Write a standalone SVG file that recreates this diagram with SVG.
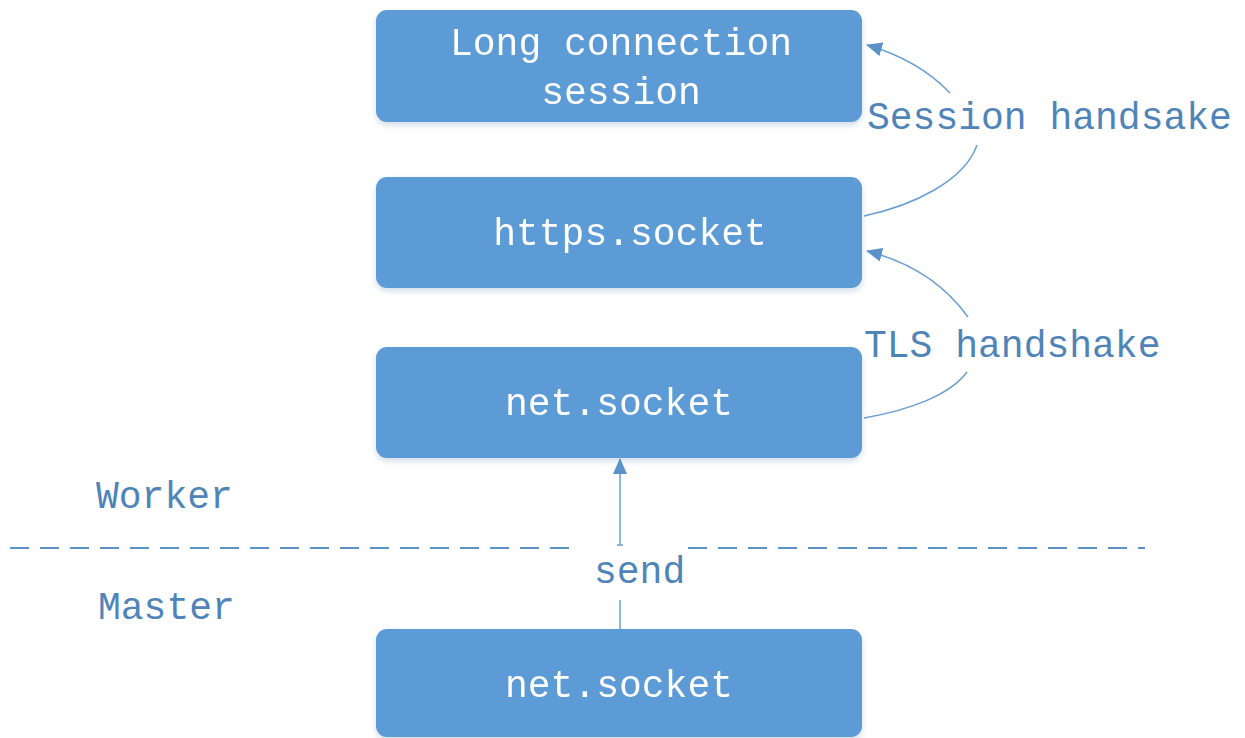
<svg xmlns="http://www.w3.org/2000/svg" width="1245" height="738" viewBox="0 0 1245 738">
  <style>
    .box { fill: #5b9bd5; }
    .boxtext { fill: #ffffff; font-family: "Liberation Mono", "DejaVu Sans Mono", monospace; font-size: 38px; text-anchor: middle; }
    .label { fill: #4f84b9; font-family: "Liberation Mono", "DejaVu Sans Mono", monospace; font-size: 38px; }
    .link { fill: none; stroke: #6a9fd2; stroke-width: 1.5; }
    .divider { fill: none; stroke: #5b93c9; stroke-width: 2; stroke-dasharray: 19 11; }
  </style>
  <defs>
    <filter id="shadow" x="-5%" y="-10%" width="110%" height="130%">
      <feDropShadow dx="0" dy="3" stdDeviation="3" flood-color="#7a9cc0" flood-opacity="0.35"/>
    </filter>
    <marker id="arrow" viewBox="0 0 16 14" refX="15" refY="7" markerWidth="16" markerHeight="14" markerUnits="userSpaceOnUse" orient="auto">
      <path d="M0,0 L16,7 L0,14 Z" fill="#5b93c9"/>
    </marker>
  </defs>

  <rect width="1245" height="738" fill="#ffffff"/>

  <!-- process boundary -->
  <g id="boundary">
    <path class="divider" d="M10,548 H580"/>
    <path class="divider" d="M688,548 H1145"/>
    <text class="label" x="96" y="508">Worker</text>
    <text class="label" x="98" y="619">Master</text>
  </g>

  <g id="node-session" filter="url(#shadow)">
    <rect class="box" x="376" y="10" width="486" height="112" rx="11"/>
    <text class="boxtext" x="621" y="55">Long connection</text>
    <text class="boxtext" x="621" y="104">session</text>
  </g>

  <g id="node-https" filter="url(#shadow)">
    <rect class="box" x="376" y="177" width="486" height="111" rx="11"/>
    <text class="boxtext" x="630" y="245">https.socket</text>
  </g>

  <g id="node-net-worker" filter="url(#shadow)">
    <rect class="box" x="376" y="347" width="486" height="111" rx="11"/>
    <text class="boxtext" x="619" y="415">net.socket</text>
  </g>

  <g id="node-net-master" filter="url(#shadow)">
    <rect class="box" x="376" y="629" width="486" height="108" rx="11"/>
    <text class="boxtext" x="619" y="697">net.socket</text>
  </g>

  <g id="connectors">
    <!-- send: master socket handed to worker -->
    <path class="link" d="M620,629 V600"/>
    <path class="link" d="M620,545 V459" marker-end="url(#arrow)"/>
    <path class="link" d="M617,545 H623"/>
    <text class="label" x="594" y="583">send</text>

    <!-- TLS handshake -->
    <path class="link" d="M864,418 C910,410 950,395 967,372"/>
    <path class="link" d="M968,317 C945,285 910,262 867,251" marker-end="url(#arrow)"/>
    <text class="label" x="864" y="357">TLS handshake</text>

    <!-- Session handshake -->
    <path class="link" d="M864,216 C915,205 965,180 977,145"/>
    <path class="link" d="M950,93 C930,72 905,56 867,45" marker-end="url(#arrow)"/>
    <text class="label" x="867" y="129">Session handsake</text>
  </g>
</svg>
